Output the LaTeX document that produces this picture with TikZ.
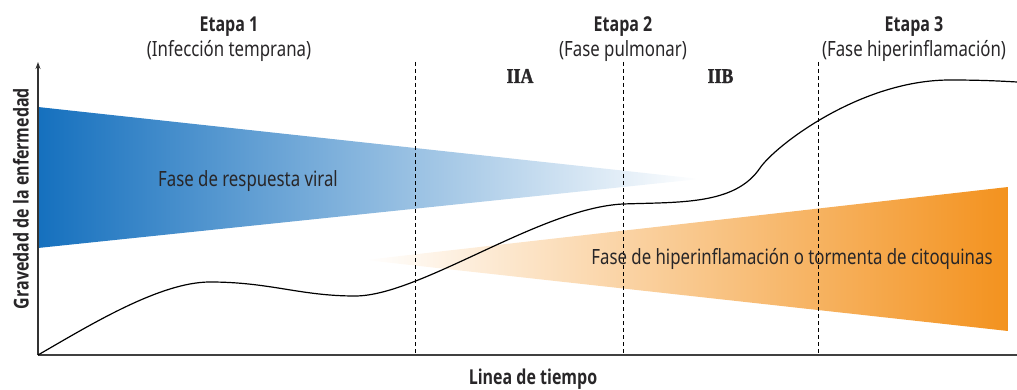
\documentclass[tikz,border=0pt]{standalone}
\usepackage{fontspec}
\setmainfont{Noto Sans}[FakeStretch=0.8]
\newfontfamily\headfont{Open Sans}[FakeStretch=0.78]
\newfontfamily\romfont{Liberation Serif}[FakeStretch=0.85,FakeBold=1.5]
\usepackage{tikz}
\usetikzlibrary{arrows.meta}

\definecolor{virblue}{RGB}{21,112,190}
\definecolor{virmid}{RGB}{130,165,215}
\definecolor{infor}{RGB}{243,146,30}
\definecolor{txtgray}{RGB}{40,38,40}

\tikzset{
  etapa/.style={font=\fontsize{20.5}{24}\selectfont\headfont\bfseries,text=txtgray,anchor=base},
  sub/.style={font=\fontsize{21}{25}\selectfont,text=txtgray,anchor=base},
  fase/.style={font=\fontsize{21}{25}\selectfont,text=txtgray},
  subfase/.style={font=\fontsize{21}{25}\selectfont\romfont,text=txtgray,anchor=base},
  divider/.style={dash pattern=on 4pt off 3pt,line width=0.9pt}
}

\begin{document}
\begin{tikzpicture}[x=1pt,y=-1pt]
\useasboundingbox (0,0) rectangle (1017,390);
\coordinate (O) at (38,355);
\coordinate (ytop) at (38,62);
\coordinate (xend) at (1017,355);
% viral phase wedge
\shade[left color=virblue,middle color=virmid,right color=white] (38,107) -- (700,179) -- (38,248) -- cycle;
% hyperinflammation wedge
\shade[left color=white,right color=infor] (365,260) -- (1008,187) -- (1008,331) -- cycle;
% stage dividers
\foreach \x/\n in {415/a,623/b,818/c}{
  \draw[divider] (\x,62) coordinate (d\n top) -- (\x,355) coordinate (d\n bot);
}
% axes
\draw[line width=1.3pt,black!75] (O) -- (xend);
\draw[line width=1.1pt,black!80,-{Stealth[length=7pt,width=5pt]}] (O) -- (ytop);
% severity curve
\draw[line width=1.2pt] (O) .. controls (90,325) and (160,282) .. (210,282)
  .. controls (270,282) and (300,296) .. (355,296)
  .. controls (420,296) and (540,208) .. (623,204)
  .. controls (680,202) and (735,205) .. (760,168)
  .. controls (775,146) and (860,80) .. (950,80)
  .. controls (980,80) and (1000,81) .. (1017,82);
% labels
\node[etapa] (e1) at (229,32) {Etapa 1};
\node[sub] (s1) at (229,57) {(Infección temprana)};
\node[etapa] (e2) at (623,32) {Etapa 2};
\node[sub] (s2) at (623,57) {(Fase pulmonar)};
\node[etapa] (e3) at (914,32) {Etapa 3};
\node[sub] (s3) at (914,57) {(Fase hiperinflamación)};
\node[subfase] (iia) at (520,83) {\bfseries IIA};
\node[subfase] (iib) at (720.5,83) {\bfseries IIB};
\node[fase] (viral) at (248,181) {Fase de respuesta viral};
\node[fase] (storm) at (792,259) {Fase de hiperinflamación o tormenta de citoquinas};
\node[etapa] (xlab) at (533,384) {Linea de tiempo};
\node[etapa,anchor=center,rotate=90] (ylab) at (21,198.5) {Gravedad de la enfermedad};
\end{tikzpicture}
\end{document}
